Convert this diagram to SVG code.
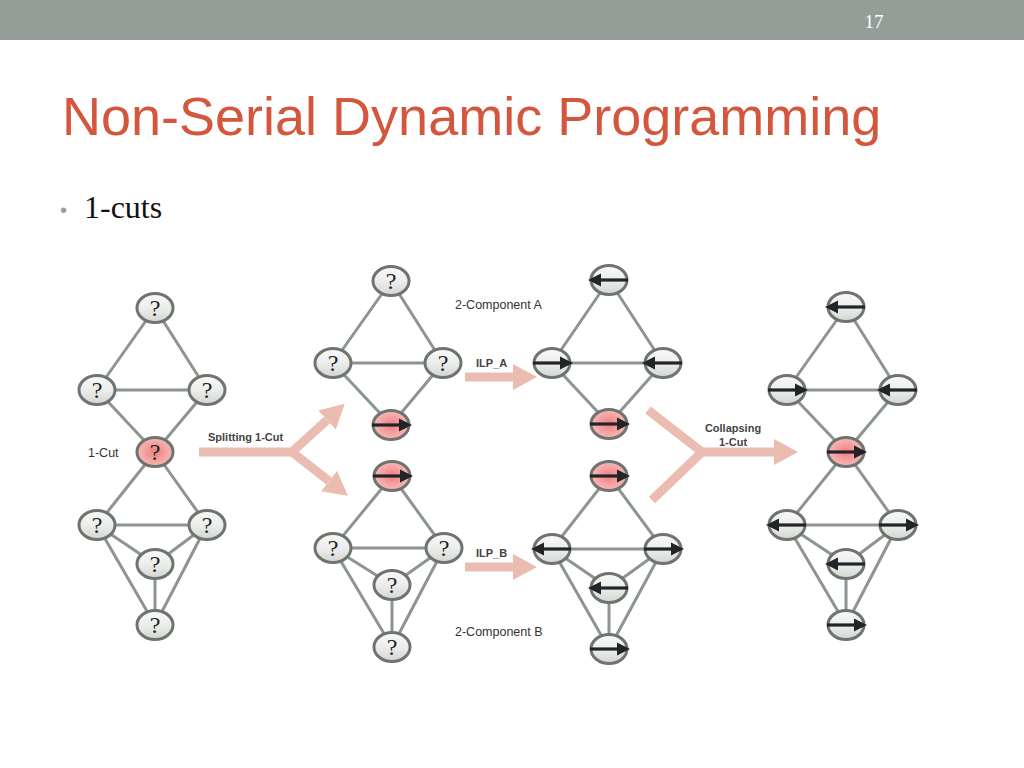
<svg xmlns="http://www.w3.org/2000/svg" xmlns:xlink="http://www.w3.org/1999/xlink" width="1024" height="768" viewBox="0 0 1024 768">
<defs>
<linearGradient id="gGrey" x1="0" y1="0" x2="0" y2="1">
<stop offset="0" stop-color="#f8f9f8"/><stop offset="0.5" stop-color="#eceeec"/><stop offset="1" stop-color="#d2d5d2"/>
</linearGradient>
<radialGradient id="gPink" cx="0.5" cy="0.5" r="0.6">
<stop offset="0" stop-color="#ef8080"/><stop offset="1" stop-color="#f9c4c4"/>
</radialGradient>
<marker id="bigHead" markerUnits="userSpaceOnUse" markerWidth="24" markerHeight="26" viewBox="0 0 24 26" refX="0" refY="13" orient="auto">
<path d="M0,0 L24,13 L0,26 z" fill="#ebbcb1"/>
</marker>
<g id="ra"><line x1="-19" y1="0" x2="10" y2="0" stroke="#222428" stroke-width="3.2"/><polygon points="8,-6.5 21,0 8,6.5" fill="#222428"/></g>
<g id="la"><line x1="19" y1="0" x2="-10" y2="0" stroke="#222428" stroke-width="3.2"/><polygon points="-8,-6.5 -21,0 -8,6.5" fill="#222428"/></g>
</defs>
<style>
.n{fill:url(#gGrey);stroke:#6f746f;stroke-width:3}
.p{fill:url(#gPink);stroke:#6f746f;stroke-width:3}
.q{font-family:"Liberation Serif",serif;font-size:24px;fill:#222;text-anchor:middle}
.e line{stroke:#8d958f;stroke-width:3}
.big{fill:none;stroke:#ebbcb1;stroke-width:9}
.lbl{font-family:"Liberation Sans",Arial,sans-serif;font-size:12.5px;fill:#333}
.bl{font-family:"Liberation Sans",Arial,sans-serif;font-size:11px;font-weight:bold;fill:#444}
</style>
<rect x="0" y="0" width="1024" height="768" fill="#ffffff"/>
<rect x="0" y="0" width="1024" height="40" fill="#939e98"/>
<text x="874" y="28" font-family="Liberation Serif,serif" font-size="19" fill="#ffffff" text-anchor="middle">17</text>
<text x="62" y="135" font-family="Liberation Sans,Arial,sans-serif" font-size="54" fill="#d3563d">Non-Serial Dynamic Programming</text>
<text x="60" y="217" font-family="Liberation Sans,Arial,sans-serif" font-size="20" fill="#9a9e9b">•</text>
<text x="84" y="218" font-family="Liberation Serif,serif" font-size="32" fill="#111">1-cuts</text>

<g id="connectors">
<g class="e">
<line x1="155" y1="308" x2="97" y2="390"/><line x1="155" y1="308" x2="207" y2="390"/><line x1="97" y1="390" x2="207" y2="390"/>
<line x1="97" y1="390" x2="155" y2="452"/><line x1="207" y1="390" x2="155" y2="452"/>
<line x1="155" y1="452" x2="97" y2="525"/><line x1="155" y1="452" x2="207" y2="525"/><line x1="97" y1="525" x2="207" y2="525"/>
<line x1="97" y1="525" x2="155" y2="564"/><line x1="207" y1="525" x2="155" y2="564"/><line x1="155" y1="564" x2="155" y2="625"/>
<line x1="97" y1="525" x2="155" y2="625"/><line x1="207" y1="525" x2="155" y2="625"/>
<line x1="391" y1="281" x2="333" y2="363"/><line x1="391" y1="281" x2="443" y2="363"/><line x1="333" y1="363" x2="443" y2="363"/>
<line x1="333" y1="363" x2="391" y2="425"/><line x1="443" y1="363" x2="391" y2="425"/>
<line x1="392" y1="476" x2="333" y2="548"/><line x1="392" y1="476" x2="444" y2="548"/><line x1="333" y1="548" x2="444" y2="548"/>
<line x1="333" y1="548" x2="392" y2="585"/><line x1="444" y1="548" x2="392" y2="585"/><line x1="392" y1="585" x2="392" y2="647"/>
<line x1="333" y1="548" x2="392" y2="647"/><line x1="444" y1="548" x2="392" y2="647"/>
<line x1="609" y1="280" x2="552" y2="363"/><line x1="609" y1="280" x2="663" y2="363"/><line x1="552" y1="363" x2="663" y2="363"/>
<line x1="552" y1="363" x2="609" y2="424"/><line x1="663" y1="363" x2="609" y2="424"/>
<line x1="609" y1="476" x2="552" y2="549"/><line x1="609" y1="476" x2="663" y2="549"/><line x1="552" y1="549" x2="663" y2="549"/>
<line x1="552" y1="549" x2="609" y2="588"/><line x1="663" y1="549" x2="609" y2="588"/><line x1="609" y1="588" x2="609" y2="649"/>
<line x1="552" y1="549" x2="609" y2="649"/><line x1="663" y1="549" x2="609" y2="649"/>
<line x1="846" y1="307" x2="787" y2="390"/><line x1="846" y1="307" x2="898" y2="390"/><line x1="787" y1="390" x2="898" y2="390"/>
<line x1="787" y1="390" x2="846" y2="452"/><line x1="898" y1="390" x2="846" y2="452"/>
<line x1="846" y1="452" x2="787" y2="525"/><line x1="846" y1="452" x2="898" y2="525"/><line x1="787" y1="525" x2="898" y2="525"/>
<line x1="787" y1="525" x2="846" y2="564"/><line x1="898" y1="525" x2="846" y2="564"/><line x1="846" y1="564" x2="846" y2="625"/>
<line x1="787" y1="525" x2="846" y2="625"/><line x1="898" y1="525" x2="846" y2="625"/>
</g>
<path class="big" d="M199,452 H292 L327,420" marker-end="url(#bigHead)"/>
<path class="big" d="M292,452 L329,481" marker-end="url(#bigHead)"/>
<path class="big" d="M465,377 H513" marker-end="url(#bigHead)"/>
<path class="big" d="M465,567 H513" marker-end="url(#bigHead)"/>
<path class="big" d="M648,410 L702,452"/>
<path class="big" d="M652,500 L702,452 H774" marker-end="url(#bigHead)"/>
</g>

<g id="labels">
<text class="lbl" x="88" y="457">1-Cut</text>
<text class="bl" x="208" y="441">Splitting 1-Cut</text>
<text class="lbl" x="455" y="309">2-Component A</text>
<text class="lbl" x="455" y="636">2-Component B</text>
<text class="bl" x="476" y="367">ILP_A</text>
<text class="bl" x="476" y="557">ILP_B</text>
<text class="bl" x="733" y="432" text-anchor="middle">Collapsing</text>
<text class="bl" x="733" y="446" text-anchor="middle">1-Cut</text>
</g>

<g id="a1"><ellipse class="n" cx="155" cy="308" rx="18" ry="14.5"/><text class="q" x="155" y="316">?</text></g>
<g id="a2"><ellipse class="n" cx="97" cy="390" rx="18" ry="14.5"/><text class="q" x="97" y="398">?</text></g>
<g id="a3"><ellipse class="n" cx="207" cy="390" rx="18" ry="14.5"/><text class="q" x="207" y="398">?</text></g>
<g id="a4"><ellipse class="p" cx="155" cy="452" rx="18" ry="14.5"/><text class="q" x="155" y="460">?</text></g>
<g id="a5"><ellipse class="n" cx="97" cy="525" rx="18" ry="14.5"/><text class="q" x="97" y="533">?</text></g>
<g id="a6"><ellipse class="n" cx="207" cy="525" rx="18" ry="14.5"/><text class="q" x="207" y="533">?</text></g>
<g id="a7"><ellipse class="n" cx="155" cy="564" rx="18" ry="14.5"/><text class="q" x="155" y="572">?</text></g>
<g id="a8"><ellipse class="n" cx="155" cy="625" rx="18" ry="14.5"/><text class="q" x="155" y="633">?</text></g>

<g id="b1"><ellipse class="n" cx="391" cy="281" rx="18" ry="14.5"/><text class="q" x="391" y="289">?</text></g>
<g id="b2"><ellipse class="n" cx="333" cy="363" rx="18" ry="14.5"/><text class="q" x="333" y="371">?</text></g>
<g id="b3"><ellipse class="n" cx="443" cy="363" rx="18" ry="14.5"/><text class="q" x="443" y="371">?</text></g>
<g id="b4"><ellipse class="p" cx="391" cy="425" rx="18" ry="14.5"/><use xlink:href="#ra" href="#ra" x="391" y="425"/></g>

<g id="c1"><ellipse class="p" cx="392" cy="476" rx="18" ry="14.5"/><use xlink:href="#ra" href="#ra" x="392" y="476"/></g>
<g id="c2"><ellipse class="n" cx="333" cy="548" rx="18" ry="14.5"/><text class="q" x="333" y="556">?</text></g>
<g id="c3"><ellipse class="n" cx="444" cy="548" rx="18" ry="14.5"/><text class="q" x="444" y="556">?</text></g>
<g id="c4"><ellipse class="n" cx="392" cy="585" rx="18" ry="14.5"/><text class="q" x="392" y="593">?</text></g>
<g id="c5"><ellipse class="n" cx="392" cy="647" rx="18" ry="14.5"/><text class="q" x="392" y="655">?</text></g>

<g id="d1"><ellipse class="n" cx="609" cy="280" rx="18" ry="14.5"/><use xlink:href="#la" href="#la" x="609" y="280"/></g>
<g id="d2"><ellipse class="n" cx="552" cy="363" rx="18" ry="14.5"/><use xlink:href="#ra" href="#ra" x="552" y="363"/></g>
<g id="d3"><ellipse class="n" cx="663" cy="363" rx="18" ry="14.5"/><use xlink:href="#la" href="#la" x="663" y="363"/></g>
<g id="d4"><ellipse class="p" cx="609" cy="424" rx="18" ry="14.5"/><use xlink:href="#ra" href="#ra" x="609" y="424"/></g>

<g id="e1"><ellipse class="p" cx="609" cy="476" rx="18" ry="14.5"/><use xlink:href="#ra" href="#ra" x="609" y="476"/></g>
<g id="e2"><ellipse class="n" cx="552" cy="549" rx="18" ry="14.5"/><use xlink:href="#la" href="#la" x="552" y="549"/></g>
<g id="e3"><ellipse class="n" cx="663" cy="549" rx="18" ry="14.5"/><use xlink:href="#ra" href="#ra" x="663" y="549"/></g>
<g id="e4"><ellipse class="n" cx="609" cy="588" rx="18" ry="14.5"/><use xlink:href="#la" href="#la" x="609" y="588"/></g>
<g id="e5"><ellipse class="n" cx="609" cy="649" rx="18" ry="14.5"/><use xlink:href="#ra" href="#ra" x="609" y="649"/></g>

<g id="f1"><ellipse class="n" cx="846" cy="307" rx="18" ry="14.5"/><use xlink:href="#la" href="#la" x="846" y="307"/></g>
<g id="f2"><ellipse class="n" cx="787" cy="390" rx="18" ry="14.5"/><use xlink:href="#ra" href="#ra" x="787" y="390"/></g>
<g id="f3"><ellipse class="n" cx="898" cy="390" rx="18" ry="14.5"/><use xlink:href="#la" href="#la" x="898" y="390"/></g>
<g id="f4"><ellipse class="p" cx="846" cy="452" rx="18" ry="14.5"/><use xlink:href="#ra" href="#ra" x="846" y="452"/></g>
<g id="f5"><ellipse class="n" cx="787" cy="525" rx="18" ry="14.5"/><use xlink:href="#la" href="#la" x="787" y="525"/></g>
<g id="f6"><ellipse class="n" cx="898" cy="525" rx="18" ry="14.5"/><use xlink:href="#ra" href="#ra" x="898" y="525"/></g>
<g id="f7"><ellipse class="n" cx="846" cy="564" rx="18" ry="14.5"/><use xlink:href="#la" href="#la" x="846" y="564"/></g>
<g id="f8"><ellipse class="n" cx="846" cy="625" rx="18" ry="14.5"/><use xlink:href="#ra" href="#ra" x="846" y="625"/></g>
</svg>
